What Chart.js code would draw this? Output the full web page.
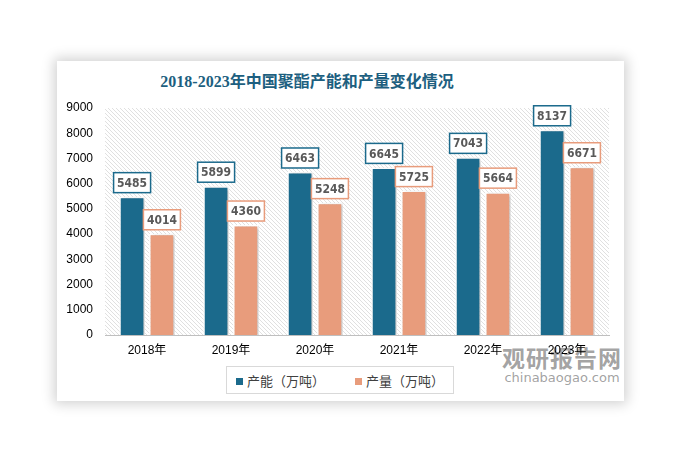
<!DOCTYPE html>
<html><head><meta charset="utf-8">
<script src="https://cdn.jsdelivr.net/npm/chart.js@4.4.0/dist/chart.umd.min.js"></script>
<style>
html,body{margin:0;padding:0;background:#fff;width:687px;height:466px;overflow:hidden;font-family:"Noto Sans CJK SC","Noto Sans",sans-serif;}
#card{position:absolute;left:57px;top:61px;width:567px;height:340px;background:#fff;box-shadow:0 0 12px 3px rgba(0,0,0,0.18);}
#title{position:absolute;left:0;width:614px;top:68px;text-align:center;font:bold 16px "Liberation Serif","Noto Sans CJK SC",serif;color:#1d5f80;}
#wrap{position:absolute;left:0;top:0;width:687px;height:466px;}
#legend{position:absolute;left:226px;top:366px;width:226px;height:26px;border:1px solid #d9d9d9;background:#fff;font-size:13px;color:#404040;display:flex;align-items:center;justify-content:center;gap:30px;}
#legend span.sw{display:inline-block;width:7px;height:7px;margin-right:4px;vertical-align:middle;}
#wm{position:absolute;left:478px;top:344px;color:rgba(110,110,110,0.65);text-align:center;}
#wm .a{font:bold 23px "Noto Sans CJK SC",sans-serif;letter-spacing:1px;margin-left:24px;line-height:27px;}
#wm .b{font:13px "DejaVu Sans",sans-serif;margin-left:24px;line-height:14px;}
</style></head>
<body>
<div id="card"></div>
<div id="title">2018-2023年中国聚酯产能和产量变化情况</div>
<div id="wm"><div class="a">观研报告网</div><div class="b">chinabaogao.com</div></div>
<div id="wrap"><canvas id="c" width="687" height="466"></canvas></div>
<div id="legend"><div><span class="sw" style="background:#1b6a8c"></span>产能（万吨）</div><div><span class="sw" style="background:#e89c7c"></span>产量（万吨）</div></div>
<script>
const categories = ["2018年","2019年","2020年","2021年","2022年","2023年"];
const capacity = [5485,5899,6463,6645,7043,8137];
const output = [4014,4360,5248,5725,5664,6671];
const yTicks = [0,1000,2000,3000,4000,5000,6000,7000,8000,9000];
const seriesNames = ["产能（万吨）","产量（万吨）"];
const colors = ["#1b6a8c","#e89c7c"];

function hatch(){
  const p=document.createElement('canvas');p.width=4;p.height=4;
  const g=p.getContext('2d');
  g.strokeStyle='#e0e0e0';g.lineWidth=1;
  g.beginPath();g.moveTo(-1,-1);g.lineTo(5,5);g.moveTo(-1,3);g.lineTo(1,5);g.moveTo(3,-1);g.lineTo(5,1);g.stroke();
  return p;
}
const bgPlugin={id:'bg',beforeDraw(chart){
  const {ctx,chartArea:a}=chart;
  ctx.save();ctx.fillStyle=ctx.createPattern(hatch(),'repeat');
  ctx.fillRect(a.left,a.top,a.right-a.left,a.bottom-a.top);ctx.restore();
}};
const shadowPlugin={id:'sh',beforeDatasetsDraw(chart){
  const ctx=chart.ctx;ctx.save();ctx.shadowColor='rgba(0,0,0,0.25)';ctx.shadowBlur=3;ctx.shadowOffsetX=2;ctx.shadowOffsetY=1;
},afterDatasetsDraw(chart){chart.ctx.restore();}};
const labelPlugin={id:'lbl',afterDatasetsDraw(chart){
  const ctx=chart.ctx;ctx.save();
  ctx.font='bold 12px "DejaVu Sans Condensed","DejaVu Sans",sans-serif';ctx.textAlign='center';ctx.textBaseline='middle';
  chart.data.datasets.forEach((ds,di)=>{
    chart.getDatasetMeta(di).data.forEach((bar,i)=>{
      const w=37,h=20,x=bar.x,yb=bar.y-4;
      ctx.fillStyle='#fff';ctx.fillRect(x-w/2,yb-h,w,h);
      ctx.strokeStyle=colors[di];ctx.lineWidth=1.5;ctx.strokeRect(x-w/2,yb-h,w,h);
      ctx.fillStyle='#595959';ctx.fillText(String(ds.data[i]),x,yb-h/2+1);
    });
  });
  ctx.restore();
}};
new Chart(document.getElementById('c'),{
  type:'bar',
  data:{labels:categories,datasets:[
    {label:seriesNames[0],data:capacity,backgroundColor:colors[0],borderColor:'#fff',borderWidth:1.5},
    {label:seriesNames[1],data:output,backgroundColor:colors[1],borderColor:'#fff',borderWidth:1.5}
  ]},
  options:{
    responsive:false,animation:false,devicePixelRatio:1,
    categoryPercentage:0.71,barPercentage:0.86,
    layout:{padding:{left:57,right:78,top:108,bottom:111}},
    plugins:{legend:{display:false},tooltip:{enabled:false}},
    scales:{
      x:{grid:{display:false,drawTicks:false},border:{display:true,color:'#bfbfbf',width:1},
         ticks:{color:'#000',font:{size:12,family:'"Liberation Sans","Noto Sans CJK SC",sans-serif'},padding:8},
         afterFit(s){s.height=20;}},
      y:{min:0,max:9000,grid:{display:false,drawTicks:false},border:{display:false},
         afterBuildTicks(s){s.ticks=yTicks.map(v=>({value:v}));},
         ticks:{color:'#000',font:{size:12,family:'"Liberation Sans",sans-serif'},padding:12,callback:v=>String(v)},
         afterFit(s){s.width=48;}}
    }
  },
  plugins:[bgPlugin,shadowPlugin,labelPlugin]
});
</script>
</body></html>
